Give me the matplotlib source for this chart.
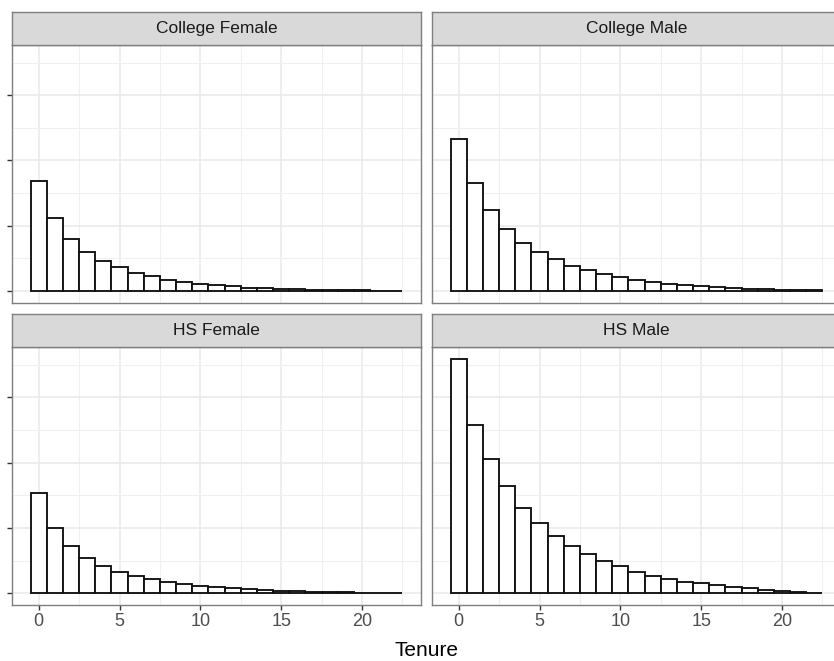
import numpy as np
import matplotlib
matplotlib.use("Agg")
import matplotlib.pyplot as plt

plt.rcParams['font.family'] = ['Liberation Sans', 'DejaVu Sans']

# tenure bins (0..22) and bar heights per facet (y tick labels are cropped in the source)
tenure = list(range(23))
college_female = [1.68, 1.12, 0.80, 0.60, 0.45, 0.36, 0.275, 0.22, 0.168, 0.133, 0.10, 0.087,
                  0.067, 0.046, 0.037, 0.026, 0.02, 0.015, 0.01, 0.008, 0.006, 0.004, 0.003]
college_male = [2.33, 1.66, 1.24, 0.95, 0.74, 0.59, 0.48, 0.38, 0.316, 0.255, 0.214, 0.168,
                0.133, 0.107, 0.087, 0.07, 0.052, 0.04, 0.03, 0.022, 0.016, 0.012, 0.008]
hs_female = [1.54, 1.00, 0.72, 0.545, 0.42, 0.33, 0.27, 0.224, 0.18, 0.142, 0.117, 0.097,
             0.076, 0.061, 0.05, 0.04, 0.03, 0.024, 0.018, 0.013, 0.01, 0.007, 0.005]
hs_male = [3.59, 2.58, 2.05, 1.64, 1.31, 1.08, 0.88, 0.73, 0.60, 0.49, 0.42, 0.33,
           0.27, 0.22, 0.18, 0.153, 0.122, 0.097, 0.076, 0.056, 0.036, 0.02, 0.01]
titles = ["College Female", "College Male", "HS Female", "HS Male"]
series = [college_female, college_male, hs_female, hs_male]
x_ticks = [0, 5, 10, 15, 20]
y_ticks = [0, 1, 2, 3]

W, H = 834, 661
fig = plt.figure(figsize=(W / 100, H / 100), dpi=100)

ymax = max(max(s) for s in series)
xlo, xhi = -0.5, 22.5
xpad = 0.05 * (xhi - xlo)

# panel boxes in pixels: (left, top_of_strip, strip_bottom, panel_bottom)
cols = [12, 432]
pw = 409
rows = [(12, 45, 302.5), (314, 347, 605)]
border = '#7F7F7F'

for k, (title, vals) in enumerate(zip(titles, series)):
    r, c = divmod(k, 2)
    left = cols[c]
    st, sb, pb = rows[r]
    ax = fig.add_axes([left / W, 1 - pb / H, pw / W, (pb - sb) / H])
    sax = fig.add_axes([left / W, 1 - sb / H, pw / W, (sb - st) / H])

    ax.bar(tenure, vals, width=1.0, color='white', edgecolor='#111111', linewidth=1.35, zorder=3)
    ax.set_xlim(xlo - xpad, xhi + xpad)
    ax.set_ylim(-0.05 * ymax, 1.05 * ymax)
    ax.set_xticks(x_ticks)
    ax.set_xticks([2.5, 7.5, 12.5, 17.5, 22.5], minor=True)
    ax.set_yticks(y_ticks)
    ax.set_yticks([0.5, 1.5, 2.5, 3.5], minor=True)
    ax.grid(True, which='major', color='#EBEBEB', linewidth=1.2, zorder=0)
    ax.grid(True, which='minor', color='#F0F0F0', linewidth=0.8, zorder=0)
    ax.set_axisbelow(True)
    for sp in ax.spines.values():
        sp.set_color(border)
        sp.set_linewidth(1.0)
    ax.tick_params(which='minor', length=0)
    ax.tick_params(axis='both', which='major', length=3.5, width=1.0, color='#333333',
                   labelsize=13, labelcolor='#4D4D4D', pad=2)
    ax.set_yticklabels([''] * len(y_ticks))
    if c == 1:
        ax.tick_params(axis='y', which='major', length=0)
    if r == 0:
        ax.tick_params(axis='x', which='major', length=0, labelbottom=False)

    sax.set_facecolor('#D9D9D9')
    sax.set_xticks([])
    sax.set_yticks([])
    for sp in sax.spines.values():
        sp.set_color(border)
        sp.set_linewidth(1.0)
    sax.text(0.5, 0.5, title, ha='center', va='center', fontsize=12.5, color='#1A1A1A',
             transform=sax.transAxes)

fig.text(426 / W, 1 - 650 / H, 'Tenure', ha='center', va='center', fontsize=15, color='black')

fig.savefig('out.png', dpi=100)
